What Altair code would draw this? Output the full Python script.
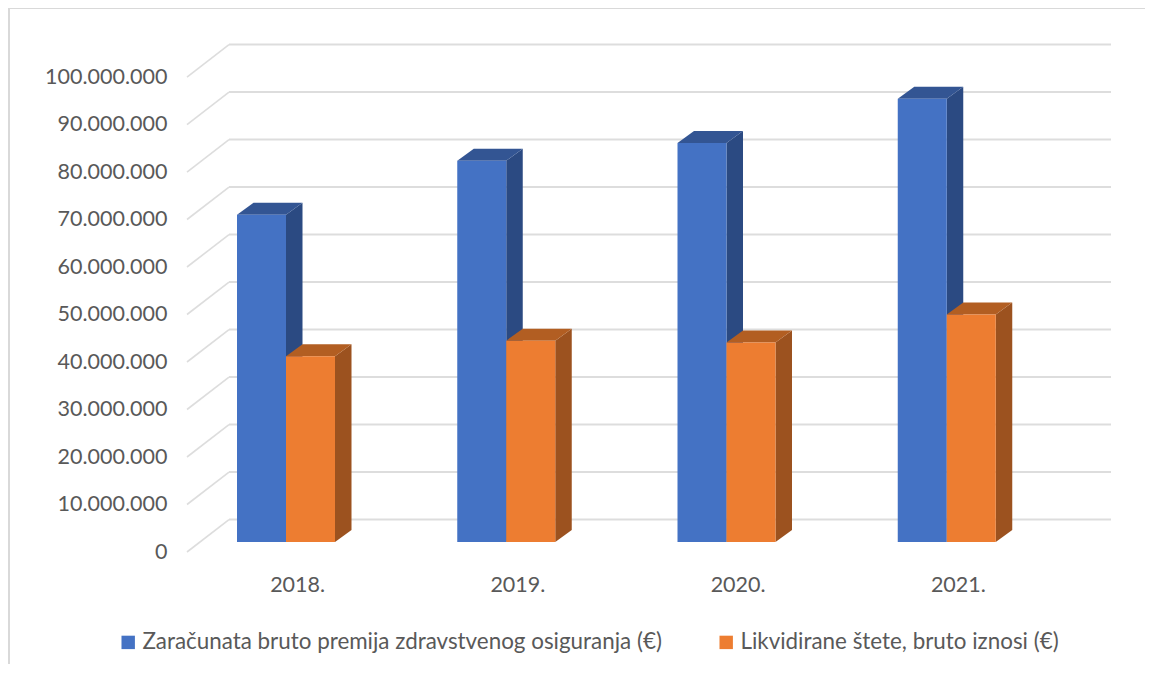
import altair as alt
import pandas as pd

years = ["2018.", "2019.", "2020.", "2021."]
series = ["Zaračunata bruto premija zdravstvenog osiguranja (€)", "Likvidirane štete, bruto iznosi (€)"]
premium = [68900000, 80250000, 84000000, 93300000]
claims = [39100000, 42400000, 42000000, 47900000]
ticks = [i * 10000000 for i in range(11)]

front_colors = ["#4472C4", "#ED7D31"]
side_colors = ["#2B4A82", "#9C521F"]
top_colors = ["#335593", "#B25E22"]

TEXT = "#595959"
GRID = "#DDDDDD"
FONT = "Lato"

# projection constants, in data units
X_MAX = 924 / 220.25
Y_MAX = 106950000
WALL_DX = 42 / 220.25
WALL_DY = 32.4 / 4.75 * 1e6
BAR_W = 49 / 220.25
BAR_DX = 16.5 / 220.25
BAR_DY = 12 / 4.75 * 1e6
BASE = 2100000
GROUP_SHIFT = -0.0505

fronts, sides, tops = [], [], []
for s, vals in enumerate([premium, claims]):
    for i, v in enumerate(vals):
        left = i + 0.5 + GROUP_SHIFT + (s - 1) * BAR_W
        right = left + BAR_W
        top = v + BASE
        bar = f"{s}-{i}"
        fronts.append(dict(series=series[s], year=years[i], x=left, x2=right, y=BASE, y2=top))
        sides.append(dict(bar=bar, col=side_colors[s], x=right, low=BASE, high=top))
        sides.append(dict(bar=bar, col=side_colors[s], x=right + BAR_DX, low=BASE + BAR_DY, high=top + BAR_DY))
        tops.append(dict(bar=bar, col=top_colors[s], y=top, xa=left, xb=right))
        tops.append(dict(bar=bar, col=top_colors[s], y=top + BAR_DY, xa=left + BAR_DX, xb=right + BAR_DX))

xs = alt.Scale(domain=[0, X_MAX], nice=False, zero=False)
ys = alt.Scale(domain=[0, Y_MAX], nice=False, zero=False)

x_axis = alt.Axis(
    values=[i + 0.5 for i in range(len(years))],
    labelExpr="[" + ",".join(f"'{y}'" for y in years) + "][floor(datum.value)]",
    title=None, domain=False, ticks=False, grid=False,
    labelFont=FONT, labelFontSize=21.5, labelColor=TEXT, labelPadding=22,
)
y_axis = alt.Axis(
    values=ticks, labelExpr="replace(format(datum.value, ',d'), /,/g, '.')",
    title=None, domain=False, ticks=False, grid=False,
    labelFont=FONT, labelFontSize=21.5, labelColor=TEXT, labelPadding=20,
)

grid_df = pd.DataFrame({"y": [t + WALL_DY for t in ticks], "y0": ticks, "x": WALL_DX, "x0": 0.0, "xe": X_MAX})

back = alt.Chart(grid_df).mark_rule(color=GRID, strokeWidth=2).encode(
    x=alt.X("x:Q", scale=xs, axis=x_axis), x2="xe:Q",
    y=alt.Y("y:Q", scale=ys, axis=y_axis),
)
diag = alt.Chart(grid_df).mark_rule(color=GRID, strokeWidth=1.6).encode(
    x=alt.X("x0:Q", scale=xs), x2="x:Q",
    y=alt.Y("y0:Q", scale=ys), y2="y:Q",
)
side = alt.Chart(pd.DataFrame(sides)).mark_area(orient="vertical", opacity=1).encode(
    x=alt.X("x:Q", scale=xs),
    y=alt.Y("low:Q", scale=ys, stack=None), y2="high:Q",
    color=alt.Color("col:N", scale=None),
    detail="bar:N",
)
top_face = alt.Chart(pd.DataFrame(tops)).mark_area(orient="horizontal", opacity=1).encode(
    y=alt.Y("y:Q", scale=ys),
    x=alt.X("xa:Q", scale=xs, stack=None), x2="xb:Q",
    color=alt.Color("col:N", scale=None),
    detail="bar:N",
)
front = alt.Chart(pd.DataFrame(fronts)).mark_rect().encode(
    x=alt.X("x:Q", scale=xs), x2="x2:Q",
    y=alt.Y("y:Q", scale=ys), y2="y2:Q",
    color=alt.Color(
        "series:N",
        scale=alt.Scale(domain=series, range=front_colors),
        legend=alt.Legend(
            orient="none", legendX=-70, legendY=587, direction="horizontal", columns=2,
            title=None, symbolType="square", symbolSize=180, symbolStrokeWidth=0,
            labelFont=FONT, labelFontSize=22.4, labelColor=TEXT, labelLimit=800,
            columnPadding=53, labelOffset=3, padding=0,
        ),
    ),
)
frame_top = alt.Chart(pd.DataFrame({"a": [0]})).mark_rule(color="#D9D9D9", strokeWidth=2).encode(
    x=alt.value(-178), x2=alt.value(980), y=alt.value(-36),
)
frame_left = alt.Chart(pd.DataFrame({"a": [0]})).mark_rule(color="#D9D9D9", strokeWidth=2).encode(
    x=alt.value(-178), y=alt.value(-36), y2=alt.value(640),
)

chart = alt.layer(
    frame_top, frame_left, back, diag, side, top_face, front
).properties(
    width=924, height=508,
    padding={"left": 179, "top": 36, "right": 34, "bottom": 112},
    autosize=alt.AutoSizeParams(type="none"),
).configure_view(stroke=None)

chart.save("out.html", embed_options={"renderer": "svg", "actions": False})
